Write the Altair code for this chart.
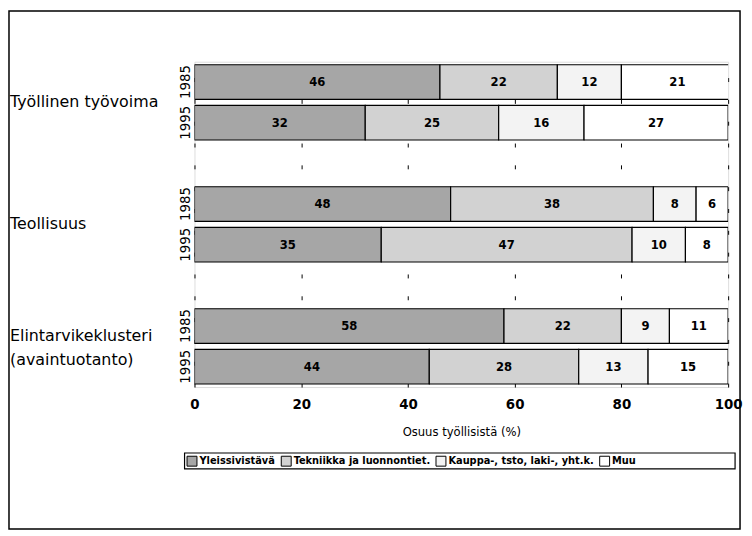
import altair as alt
import pandas as pd

# ---- data ----
groups_single = ["Työllinen työvoima", "Teollisuus"]
group_double = "Elintarvikeklusteri\n(avaintuotanto)"
group_keys = ["A", "B", "C"]
years = ["1985", "1995"]
categories = ["Yleissivistävä", "Tekniikka ja luonnontiet.",
              "Kauppa-, tsto, laki-, yht.k.", "Muu"]

tyovoima_1985 = [46, 22, 12, 21]
tyovoima_1995 = [32, 25, 16, 27]
teollisuus_1985 = [48, 38, 8, 6]
teollisuus_1995 = [35, 47, 10, 8]
elintarvike_1985 = [58, 22, 9, 11]
elintarvike_1995 = [44, 28, 13, 15]

series = {
    ("A", "1985"): tyovoima_1985, ("A", "1995"): tyovoima_1995,
    ("B", "1985"): teollisuus_1985, ("B", "1995"): teollisuus_1995,
    ("C", "1985"): elintarvike_1985, ("C", "1995"): elintarvike_1995,
}

colors = ["#a6a6a6", "#d2d2d2", "#f3f3f3", "#ffffff"]

rows = []
for (g, y), vals in series.items():
    for ci, (c, v) in enumerate(zip(categories, vals)):
        rows.append({"key": g + y, "category": c, "ci": ci, "value": v})
df = pd.DataFrame(rows)

row_domain = ["A1985", "A1995", "A_", "B1985", "B1995", "B_", "C1985", "C1995"]

labels_single = pd.DataFrame({"key": ["A1985", "B1985"], "label": groups_single})
labels_double = pd.DataFrame({"key": ["C1985"], "label": [group_double]})
one = pd.DataFrame({"a": [0]})

FONT = "Liberation Sans Narrow, DejaVu Sans Condensed, sans-serif"
LFONT = "DejaVu Sans, sans-serif"

y_scale = alt.Scale(domain=row_domain, paddingInner=0.15, paddingOuter=0.075)

y_enc = alt.Y("key:N", scale=y_scale,
              axis=alt.Axis(title=None, labelExpr="length(datum.value) == 5 ? slice(datum.value, 1) : ''",
                            labelAngle=270, labelAlign="center", labelBaseline="middle",
                            ticks=False, domain=False, labelPadding=10, labelFontSize=15,
                            labelFont=FONT, labelColor="black", grid=False))

x_scale = alt.Scale(domain=[0, 100], nice=False)

bars = alt.Chart(df).mark_bar(stroke="black", strokeWidth=1.2, clip=True).encode(
    x=alt.X("value:Q", stack="zero", scale=x_scale,
            axis=alt.Axis(title="Osuus työllisistä (%)", values=[0, 20, 40, 60, 80, 100],
                          ticks=False, domain=False, labelPadding=10, labelFontSize=15,
                          labelFont=FONT, labelFontWeight="bold", labelColor="black",
                          titleFont=FONT, titleFontSize=13, titleFontWeight="normal",
                          titleColor="black", titlePadding=14,
                          grid=True, gridColor="black", gridDash=[4, 18], gridWidth=1,
                          labelFlush=False)),
    y=y_enc,
    color=alt.Color("category:N", scale=alt.Scale(domain=categories, range=colors),
                    legend=alt.Legend(title=None, orient="none", legendX=-8, legendY=397,
                                      direction="horizontal", columns=4,
                                      symbolType="square", symbolSize=100,
                                      symbolStrokeColor="black", symbolStrokeWidth=1,
                                      labelFont=FONT, labelFontSize=11, labelFontWeight="bold",
                                      labelColor="black", columnPadding=3, labelOffset=2,
                                      padding=0)),
    order=alt.Order("ci:Q"),
)

texts = alt.Chart(df).transform_window(
    cum="sum(value)", sort=[alt.SortField("ci")], groupby=["key"],
    frame=[None, 0]
).transform_calculate(
    mid="datum.cum - datum.value / 2"
).mark_text(font=FONT, fontSize=13, fontWeight="bold", color="black").encode(
    x=alt.X("mid:Q", scale=x_scale),
    y=alt.Y("key:N", scale=y_scale),
    text=alt.Text("value:Q"),
)

group_text = alt.Chart(labels_single).mark_text(
    align="left", baseline="middle", dy=20.5, font=LFONT,
    fontSize=16, color="black"
).encode(
    x=alt.value(-186),
    y=alt.Y("key:N", scale=y_scale),
    text="label:N",
)

group_text2 = alt.Chart(labels_double).mark_text(
    align="left", baseline="middle", dy=10, font=LFONT,
    fontSize=16, lineBreak="\n", lineHeight=24, color="black"
).encode(
    x=alt.value(-186),
    y=alt.Y("key:N", scale=y_scale),
    text="label:N",
)

legend_box = alt.Chart(one).mark_rect(fillOpacity=0, stroke="black", strokeWidth=1.2).encode(
    x=alt.value(-10), x2=alt.value(545), y=alt.value(394.5), y2=alt.value(410.5)
)

outer_frame = alt.Chart(one).mark_rect(fillOpacity=0, stroke="black", strokeWidth=1.5).encode(
    x=alt.value(-187), x2=alt.value(550), y=alt.value(-51), y2=alt.value(471)
)

chart = alt.layer(bars, texts, group_text, group_text2, legend_box, outer_frame).properties(
    width=538, height=328,
    autosize="none",
    padding={"left": 188, "top": 52, "right": 16, "bottom": 145},
).configure_view(stroke="black", strokeWidth=1.5).configure(background="white")

chart.save("out.html", embed_options={"renderer": "svg", "actions": False})
